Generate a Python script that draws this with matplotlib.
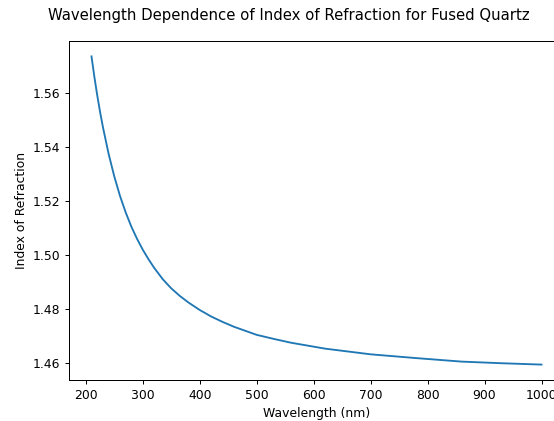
# Index of refraction of fused quartz vs wavelength
import matplotlib
matplotlib.use("Agg")
import matplotlib.pyplot as plt

# reference image looks like a shrunk default figure, so scale everything down
s = 0.89
plt.rcParams['font.size'] = 10 * s
plt.rcParams['lines.linewidth'] = 1.5 * s
plt.rcParams['axes.linewidth'] = 0.8 * s
for a in ['xtick', 'ytick']:
    plt.rcParams[a + '.major.size'] = 3.5 * s
    plt.rcParams[a + '.major.pad'] = 3.5 * s
    plt.rcParams[a + '.major.width'] = 0.8 * s

# values
wavelength = [210, 215, 220, 225, 230, 240, 250, 260, 270, 280, 290, 300,
              310, 320, 335, 350, 365, 380, 400, 420, 440, 460, 480, 500,
              530, 560, 620, 700, 780, 860, 930, 1000]
index = [1.5735, 1.5660, 1.5592, 1.5530, 1.5474, 1.5375, 1.5291, 1.5219,
         1.5158, 1.5105, 1.5060, 1.5020, 1.4985, 1.4953, 1.4911, 1.4877,
         1.4849, 1.4825, 1.4797, 1.4773, 1.4753, 1.4735, 1.4720, 1.4705,
         1.4690, 1.4676, 1.4654, 1.4633, 1.4619, 1.4606, 1.4600, 1.4595]

fig = plt.figure(figsize=(5.54, 4.21), dpi=100)
# axes run past the right edge, as in the reference
ax = fig.add_axes([69 / 554, 1 - 380 / 421, 495 / 554, 339 / 421])
ax.plot(wavelength, index)
ax.set_xlabel('Wavelength (nm)', labelpad=4 * s)
ax.set_ylabel('Index of Refraction', labelpad=4 * s)
ax.set_xticks([200, 300, 400, 500, 600, 700, 800, 900, 1000])
fig.suptitle('Wavelength Dependence of Index of Refraction for Fused Quartz',
             x=0.522, y=0.982, fontsize=12 * s)
fig.savefig('out.png', dpi=100)
